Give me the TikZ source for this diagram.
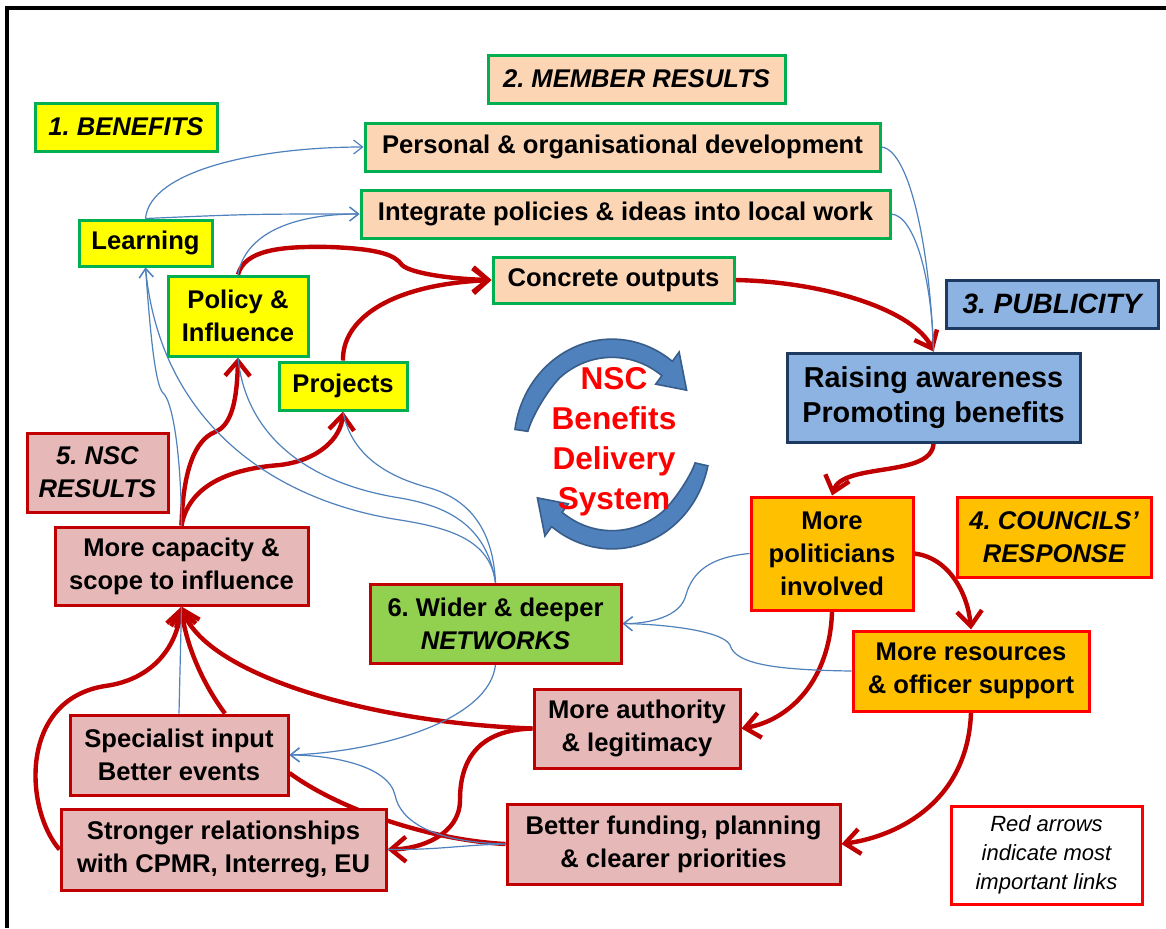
\documentclass[tikz,border=0pt]{standalone}
\usepackage{fontspec}
\setmainfont{Liberation Sans}
\usetikzlibrary{arrows.meta,calc,backgrounds}
\definecolor{dred}{HTML}{C00000}
\definecolor{bred}{HTML}{FF0000}
\definecolor{lgreen}{HTML}{00B050}
\definecolor{peach}{HTML}{FCD5B5}
\definecolor{yel}{HTML}{FFFF00}
\definecolor{pubblue}{HTML}{8DB3E2}
\definecolor{navy}{HTML}{1F3A60}
\definecolor{orng}{HTML}{FFC000}
\definecolor{pinkf}{HTML}{E6B9B8}
\definecolor{netgreen}{HTML}{92D050}
\definecolor{lblue}{HTML}{4F81BD}
\definecolor{cblue}{HTML}{4F81BD}
\definecolor{cbluedark}{HTML}{385D8A}
\newcommand\bodyfnt{\fontsize{12.8}{16.5}\selectfont\bfseries\frenchspacing}
\begin{document}
\begin{tikzpicture}[x=0.5pt,y=-0.5pt,
  sz/.style 2 args={minimum width=#1*0.5pt, minimum height=#2*0.5pt},
  box/.style={draw, line width=1.5pt, inner sep=1pt, align=center, font=\bodyfnt},
  hbox/.style={box, font=\bodyfnt\itshape},
  ybox/.style={fill=yel, draw=lgreen},
  pbox/.style={fill=peach, draw=lgreen},
  bbox/.style={fill=pubblue, draw=navy},
  obox/.style={fill=orng, draw=bred},
  kbox/.style={fill=pinkf, draw=dred},
  redarr/.style={draw=dred, line width=2.2pt, -{Straight Barb[length=7.5pt,width=12.5pt]}},
  redline/.style={draw=dred, line width=2.2pt},
  bluearr/.style={draw=lblue, line width=0.6pt, -{Straight Barb[length=4.5pt,width=7pt]}},
  blueline/.style={draw=lblue, line width=0.6pt}]
\useasboundingbox (0,0) rectangle (1166,928);
\draw[line width=2pt] (6.5,928) -- (6.5,7.5) -- (1166,7.5);

% nodes
\node[hbox,ybox,sz={182}{48}] (benefits) at (126,127) {1. BENEFITS};
\node[hbox,pbox,sz={297}{48}] (member) at (636.5,79) {2. MEMBER RESULTS};
\node[box,pbox,sz={515}{48}] (personal) at (622.5,147) {Personal \& organisational development};
\node[box,pbox,sz={529}{48}] (integrate) at (625.5,214) {Integrate policies \& ideas into local work};
\node[box,pbox,sz={241}{46}] (concrete) at (613.5,280) {Concrete outputs};
\node[box,ybox,sz={133}{46}] (learning) at (145.5,243) {Learning};
\node[box,ybox,sz={140}{80}] (policy) at (238,316) {Policy \&\\Influence};
\node[box,ybox,sz={128}{48}] (projects) at (343,386) {Projects};
\node[box,bbox,sz={212}{48},font=\fontsize{14}{17}\selectfont\bfseries\itshape\frenchspacing] (publicity) at (1052,304) {3. PUBLICITY};
\node[box,bbox,sz={293}{89},font=\fontsize{14.4}{17.5}\selectfont\bfseries] (raising) at (933.5,397.5) {Raising awareness\\Promoting benefits};
\node[hbox,kbox,sz={141}{79}] (nscresults) at (97.5,472.5) {5. NSC\\RESULTS};
\node[box,kbox,sz={253}{78}] (capacity) at (181.5,566) {More capacity \&\\scope to influence};
\node[box,fill=netgreen,draw=dred,sz={251}{79}] (networks) at (495.5,623.5) {6. Wider \& deeper\\\textit{NETWORKS}};
\node[box,obox,sz={162}{113}] (politicians) at (832,553.5) {More\\politicians\\involved};
\node[hbox,obox,sz={194}{80}] (councils) at (1054,537) {4. COUNCILS’\\RESPONSE};
\node[box,obox,sz={236}{80}] (resources) at (971,671) {More resources\\\& officer support};
\node[box,kbox,sz={206}{79}] (authority) at (637,728.5) {More authority\\\& legitimacy};
\node[box,kbox,sz={218}{80}] (specialist) at (179,755) {Specialist input\\Better events};
\node[box,kbox,sz={333}{80}] (funding) at (673.5,844) {Better funding, planning\\\& clearer priorities};
\node[box,kbox,sz={325}{81}] (stronger) at (223.5,849.5) {Stronger relationships\\with CPMR, Interreg, EU};
\node[draw=bred,fill=white,line width=1.5pt,sz={191}{98},align=center,font=\fontsize{11}{14.5}\selectfont\itshape] (legend) at (1046.5,855) {Red arrows\\indicate most\\important links};

% cycle arrows
\begin{scope}[shift={(612,444)}, yscale=-1.07]
  \filldraw[fill=cblue, draw=cbluedark, line width=0.8pt]
    (172:85) -- (172:98) arc[start angle=172,end angle=52,radius=98]
    -- (52:109) -- (34:90) -- (52:71) -- (52:81)
    arc[start angle=52,end angle=130,radius=81] .. controls (140:81.5) and (160:84) .. (172:85) -- cycle;
  \filldraw[fill=cblue, draw=cbluedark, line width=0.8pt]
    (-12:85) -- (-12:98) arc[start angle=-12,end angle=-128,radius=98]
    -- (-128:109) -- (-146:90) -- (-128:71) -- (-128:81)
    arc[start angle=-128,end angle=-50,radius=81] .. controls (-40:81.5) and (-22:84) .. (-12:85) -- cycle;
\end{scope}
\node[font=\fontsize{15.8}{20}\selectfont\bfseries, text=bred, align=center] (nsc) at (614,442) {NSC\\Benefits\\Delivery\\System};

\begin{pgfonlayer}{background}
\fill[white] (0,0) rectangle (1166,928);
% red links
\draw[redarr] (policy.north) .. controls (245,250) and (280,246) .. (330,247) .. controls (380,249) and (395,255) .. (402,265) .. controls (410,273) and (450,279) .. (concrete.west);
\draw[redarr] (projects.north) .. controls (342,322) and (385,285) .. (concrete.west);
\draw[redarr] (concrete.east) .. controls (830,282) and (915,312) .. (raising.north);
\draw[redarr] (raising.south) .. controls (932,478) and (842,462) .. (politicians.north);
\draw[redarr] (politicians.east) .. controls (950,558) and (968,595) .. (resources.north);
\draw[redarr] (politicians.south) .. controls (830,680) and (790,720) .. (authority.east);
\draw[redarr] (resources.south) .. controls (968,800) and (900,836) .. (funding.east);
\draw[redarr] (authority.west) .. controls (360,722) and (205,672) .. (capacity.south);
\draw[redarr] (authority.west) .. controls (470,730) and (460,770) .. (460,800) .. controls (460,835) and (420,849) .. (stronger.east);
\draw[redline] (funding.west) .. controls (430,840) and (340,810) .. ($(specialist.east)+(0,18)$);
\draw[redarr] ($(specialist.north)+(46,0)$) .. controls (200,680) and (185,640) .. (capacity.south);
\draw[redarr] (stronger.west) .. controls (25,810) and (18,700) .. (105,686) .. controls (150,680) and (176,650) .. (capacity.south);
\draw[redarr] (capacity.north) .. controls (183,470) and (195,440) .. (215,432) .. controls (232,425) and (237,400) .. (policy.south);
\draw[redarr] (capacity.north) .. controls (190,480) and (240,468) .. (280,465) .. controls (320,460) and (341,437) .. (projects.south);
% blue links
\draw[bluearr] (learning.north) .. controls (150,170) and (260,147) .. (personal.west);
\draw[bluearr] (learning.north) .. controls (250,214) .. (integrate.west);
\draw[bluearr] (policy.north) .. controls (245,235) and (290,214) .. (integrate.west);
\draw[blueline] (personal.east) .. controls (910,150) and (930,250) .. (raising.north);
\draw[blueline] (integrate.east) .. controls (915,216) and (932,280) .. (raising.north);
\draw[bluearr] (capacity.north) .. controls (181,450) and (172,400) .. (163,393) .. controls (155,385) and (150,330) .. (learning.south);
\draw[bluearr] (networks.north) .. controls (490,540) and (450,528) .. (400,520) .. controls (270,500) and (160,420) .. (learning.south);
\draw[blueline] (networks.north) .. controls (488,535) and (460,508) .. (400,498) .. controls (300,482) and (245,430) .. (policy.south);
\draw[blueline] (networks.north) .. controls (493,530) and (470,500) .. (430,488) .. controls (380,475) and (350,450) .. (projects.south);
\draw[bluearr] (politicians.west) .. controls (700,558) and (690,580) .. (685,598) .. controls (677,620) and (640,624) .. (networks.east);
\draw[bluearr] (resources.west) .. controls (780,670) and (735,665) .. (730,645) .. controls (722,630) and (660,624) .. (networks.east);
\draw[bluearr] (networks.south) .. controls (490,720) and (380,752) .. (specialist.east);
\draw[bluearr] (funding.west) .. controls (430,842) and (400,820) .. (395,795) .. controls (388,765) and (330,755) .. (specialist.east);
\draw[blueline] (funding.west) .. controls (460,845) and (440,850) .. (stronger.east);
\draw[blueline] (specialist.north) -- (capacity.south);
\end{pgfonlayer}
\end{tikzpicture}
\end{document}
